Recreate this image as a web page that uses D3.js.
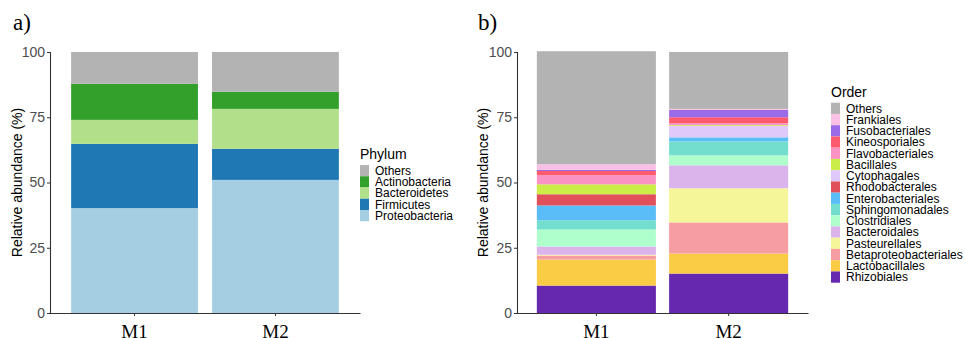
<!DOCTYPE html>
<html>
<head>
<meta charset="utf-8">
<script src="https://cdn.jsdelivr.net/npm/d3@7"></script>
<style>
  body { margin: 0; background: #fff; }
  text { font-family: "Liberation Sans", Arial, sans-serif; }
  .serif { font-family: "Liberation Serif", "DejaVu Serif", serif; }
</style>
</head>
<body>
<div id="container"></div>
<script>
var w = 965,
    h = 338;

// samples on the x axis
var samples = ['M1', 'M2'];
var yTicks = [0, 25, 50, 75, 100];

// panel a: phylum, listed bottom -> top of the stack
var phylumNames = ['Proteobacteria', 'Firmicutes', 'Bacteroidetes', 'Actinobacteria', 'Others'];
var phylumM1 = [40.2, 24.6, 9.2, 13.8, 12.2];
var phylumM2 = [51.0, 11.9, 15.3, 6.6, 15.2];
var phylumColors = ['#a6cee3', '#1f78b4', '#b2df8a', '#33a02c', '#b3b3b3'];

// panel b: order, listed bottom -> top of the stack
var orderNames = ['Rhizobiales', 'Lactobacillales', 'Betaproteobacteriales', 'Pasteurellales',
    'Bacteroidales', 'Clostridiales', 'Sphingomonadales', 'Enterobacteriales', 'Rhodobacterales',
    'Cytophagales', 'Bacillales', 'Flavobacteriales', 'Kineosporiales', 'Fusobacteriales',
    'Frankiales', 'Others'];
var orderM1 = [10.5, 10.0, 1.5, 0.3, 3.2, 6.5, 3.5, 5.7, 4.3, 0.0, 3.8, 3.5, 1.6, 0.4, 2.2, 43.3];
var orderM2 = [15.1, 7.7, 11.9, 13.1, 8.8, 3.8, 5.4, 1.5, 0.0, 4.4, 0.3, 0.7, 2.3, 2.8, 0.4, 21.8];
var orderColors = ['#6628ae', '#facb45', '#f59da2', '#f5f59a', '#dcb4ec', '#afffcd', '#73ddce',
    '#5bbdf8', '#e1505a', '#dfc8fa', '#cbed48', '#fa92c4', '#ff5a6e', '#9a6be8', '#fbc0e6', '#b3b3b3'];

var svg = d3.select('#container')
    .append('svg')
    .attr('width', w)
    .attr('height', h);

function drawPanel(opt) {
    var rows = samples.map(function(s, i) {
        var row = { sample: s };
        opt.names.forEach(function(n, j) { row[n] = opt.values[i][j]; });
        return row;
    });
    var series = d3.stack().keys(opt.names)(rows);

    var x = d3.scaleBand()
        .domain(samples)
        .range([opt.x0, opt.x1])
        .paddingInner(0.1)
        .paddingOuter(0.15);
    var y = d3.scaleLinear().domain([0, 100]).range([313, 52]);
    var color = d3.scaleOrdinal().domain(opt.names).range(opt.colors);

    var g = svg.append('g');

    g.selectAll('.layer')
        .data(series)
        .enter().append('g')
        .attr('fill', function(d) { return color(d.key); })
        .selectAll('rect')
        .data(function(d) { return d; })
        .enter().append('rect')
        .attr('x', function(d) { return x(d.data.sample); })
        .attr('width', x.bandwidth())
        .attr('y', function(d) { return y(d[1]); })
        .attr('height', function(d) { return y(d[0]) - y(d[1]); });

    // y axis
    var yAxis = g.append('g')
        .attr('transform', 'translate(' + opt.x0 + ',0)')
        .call(d3.axisLeft(y).tickValues(yTicks).tickSize(3).tickPadding(2));
    yAxis.select('.domain').attr('stroke', '#333').attr('stroke-width', 1.1);
    yAxis.selectAll('.tick line').attr('stroke', '#333');
    yAxis.selectAll('.tick text')
        .attr('fill', '#4d4d4d')
        .style('font-size', '14px')
        .style('font-family', '"Liberation Sans", Arial, sans-serif');

    // x axis
    var xAxis = g.append('g')
        .attr('transform', 'translate(0,313)')
        .call(d3.axisBottom(x).tickSize(3).tickSizeOuter(0).tickPadding(5));
    xAxis.select('.domain').attr('stroke', '#333').attr('stroke-width', 1.1);
    xAxis.selectAll('.tick line').attr('stroke', '#333');
    xAxis.selectAll('.tick text')
        .attr('class', 'serif')
        .attr('fill', '#000')
        .attr('dy', null)
        .attr('y', 25)
        .style('font-size', '19px');

    // axis title
    g.append('text')
        .attr('transform', 'translate(' + opt.titleX + ',182.5) rotate(-90)')
        .attr('text-anchor', 'middle')
        .style('font-size', '14px')
        .text('Relative abundance (%)');

    // panel label
    g.append('text')
        .attr('class', 'serif')
        .attr('x', opt.labelX)
        .attr('y', 30)
        .style('font-size', '23px')
        .text(opt.label);

    // legend (reverse of stack order)
    var leg = g.append('g').attr('transform', 'translate(' + opt.legX + ',' + opt.legY + ')');
    leg.append('text')
        .attr('x', 0)
        .attr('y', -6)
        .style('font-size', '14px')
        .text(opt.legTitle);
    var items = opt.names.slice().reverse();
    var keyH = 11.25;
    var item = leg.selectAll('.item')
        .data(items)
        .enter().append('g')
        .attr('transform', function(d, i) { return 'translate(0,' + (i * keyH) + ')'; });
    item.append('rect')
        .attr('width', 9)
        .attr('height', keyH)
        .attr('fill', function(d) { return color(d); });
    item.append('text')
        .attr('x', 15)
        .attr('y', keyH / 2 + 4.3)
        .style('font-size', '12px')
        .text(function(d) { return d; });
}

drawPanel({
    names: phylumNames,
    values: [phylumM1, phylumM2],
    colors: phylumColors,
    x0: 50, x1: 360,
    titleX: 22,
    label: 'a)', labelX: 13,
    legTitle: 'Phylum', legX: 360, legY: 165
});

drawPanel({
    names: orderNames,
    values: [orderM1, orderM2],
    colors: orderColors,
    x0: 517, x1: 808,
    titleX: 488,
    label: 'b)', labelX: 478,
    legTitle: 'Order', legX: 831, legY: 102.7
});
</script>
</body>
</html>
